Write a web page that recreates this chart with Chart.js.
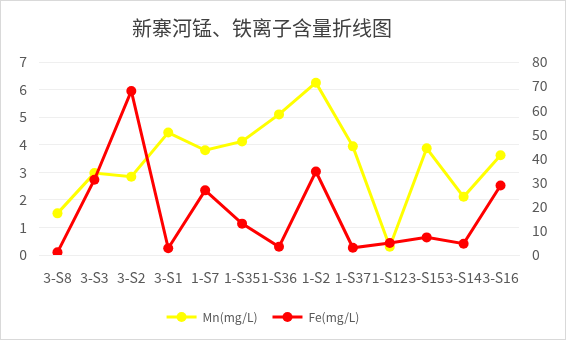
<!DOCTYPE html>
<html>
<head>
<meta charset="utf-8">
<script src="https://cdn.jsdelivr.net/npm/chart.js@4"></script>
<style>
  html, body { margin: 0; padding: 0; background: #fff; }
  #wrap { width: 566px; height: 340px; }
</style>
</head>
<body>
<div id="wrap"><canvas id="chart" width="566" height="340"></canvas></div>
<script>
const categories = ["3-S8", "3-S3", "3-S2", "3-S1", "1-S7", "1-S35", "1-S36", "1-S2", "1-S37", "1-S12", "3-S15", "3-S14", "3-S16"];
const mnValues = [1.51, 2.97, 2.84, 4.44, 3.8, 4.12, 5.1, 6.25, 3.94, 0.3, 3.87, 2.11, 3.62];
const feValues = [1.1, 31.2, 68, 2.8, 26.8, 13, 3.4, 34.6, 3.0, 5.0, 7.3, 4.7, 28.8];
const leftTicks = [0, 7, 1];
const rightTicks = [0, 80, 10];
const titleText = "新寨河锰、铁离子含量折线图";

const FONT = "'Noto Sans CJK SC', 'Noto Sans', sans-serif";
const TEXT = "#595959";
const LEGEND_SHIFT = -20; // original legend/title sit a little left of centre

// title, legend nudge, dot on the legend line, and the outer chart frame
const extras = {
  id: "extras",
  afterUpdate(chart) {
    const legend = chart.legend;
    legend.left += LEGEND_SHIFT;
    legend.right += LEGEND_SHIFT;
    legend.legendHitBoxes.forEach((box) => { box.left += LEGEND_SHIFT; });
  },
  afterDraw(chart) {
    const ctx = chart.ctx;
    const legend = chart.legend;
    ctx.save();
    ctx.fillStyle = "#404040";
    ctx.font = "20px " + FONT;
    ctx.textAlign = "center";
    ctx.textBaseline = "middle";
    ctx.fillText(titleText, 262, 28);

    legend.legendHitBoxes.forEach((box, i) => {
      const item = legend.legendItems[i];
      const cx = box.left + legend.options.labels.boxWidth / 2;
      const cy = box.top + box.height / 2;
      ctx.fillStyle = item.strokeStyle;
      ctx.beginPath();
      ctx.arc(cx, cy, 5, 0, Math.PI * 2);
      ctx.fill();
    });
    ctx.strokeStyle = "#d9d9d9";
    ctx.lineWidth = 1;
    ctx.strokeRect(0.5, 0.5, chart.width - 1, chart.height - 1);
    ctx.restore();
  }
};

new Chart(document.getElementById("chart"), {
  type: "line",
  data: {
    labels: categories,
    datasets: [
      {
        label: "Mn(mg/L)",
        data: mnValues,
        yAxisID: "y",
        borderColor: "#ffff00",
        backgroundColor: "#ffff00",
        borderWidth: 3,
        pointRadius: 5,
        pointHoverRadius: 5,
        pointBackgroundColor: "#ffff00",
        pointBorderWidth: 0,
        tension: 0,
        order: 1
      },
      {
        label: "Fe(mg/L)",
        data: feValues,
        yAxisID: "y1",
        borderColor: "#ff0000",
        backgroundColor: "#ff0000",
        borderWidth: 3,
        pointRadius: 5,
        pointHoverRadius: 5,
        pointBackgroundColor: "#ff0000",
        pointBorderWidth: 0,
        tension: 0,
        order: 0
      }
    ]
  },
  options: {
    responsive: false,
    animation: false,
    layout: { padding: { left: 0, right: 0, top: 62, bottom: 7 } },
    plugins: {
      title: { display: false },
      legend: {
        position: "bottom",
        labels: {
          sort: (a, b) => a.datasetIndex - b.datasetIndex,
          boxWidth: 30,
          boxHeight: 3,
          padding: 15,
          color: TEXT,
          font: { family: FONT, size: 12 },
          generateLabels(chart) {
            return chart.data.datasets.map((ds, i) => ({
              text: ds.label,
              fillStyle: ds.borderColor,
              strokeStyle: ds.borderColor,
              lineWidth: 0,
              datasetIndex: i,
              fontColor: TEXT
            }));
          }
        }
      },
      tooltip: { enabled: false }
    },
    scales: {
      x: {
        offset: true,
        grid: { display: false },
        border: { display: true, color: "#efefef" },
        ticks: {
          color: TEXT,
          font: { family: FONT, size: 14 },
          autoSkip: false,
          maxRotation: 0,
          minRotation: 0,
          padding: 6
        },
        afterFit(scale) { scale.height = 41; }
      },
      y: {
        position: "left",
        min: leftTicks[0],
        max: leftTicks[1],
        ticks: {
          stepSize: leftTicks[2],
          color: TEXT,
          font: { family: FONT, size: 14 },
          padding: 12
        },
        grid: { color: "#efefef", drawTicks: false },
        border: { display: false },
        afterFit(scale) { scale.width = 39; }
      },
      y1: {
        position: "right",
        min: rightTicks[0],
        max: rightTicks[1],
        ticks: {
          stepSize: rightTicks[2],
          color: TEXT,
          font: { family: FONT, size: 14 },
          padding: 13
        },
        grid: { display: false, drawTicks: false },
        border: { display: false },
        afterFit(scale) { scale.width = 47; }
      }
    }
  },
  plugins: [extras]
});
</script>
</body>
</html>
